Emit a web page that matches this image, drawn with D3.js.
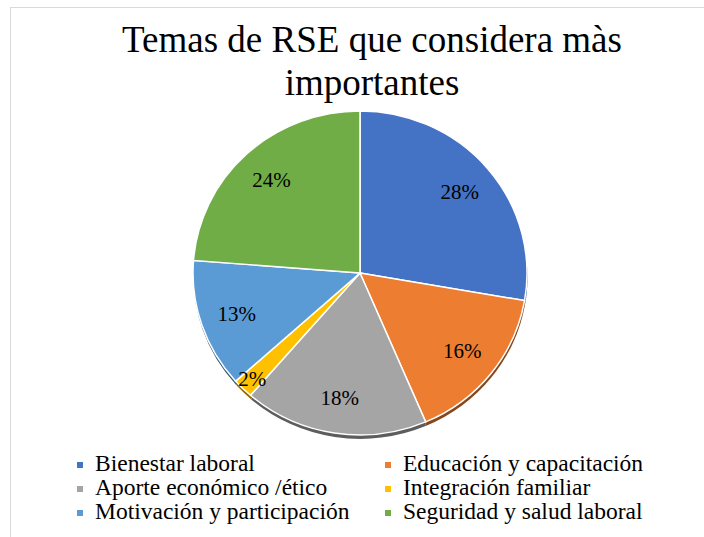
<!doctype html>
<html>
  <head>
    <meta charset="utf-8">
    <script src="https://cdnjs.cloudflare.com/ajax/libs/d3/7.8.5/d3.min.js"></script>
    <style>
      body { margin: 0; background: #fff; }
    </style>
  </head>
  <body>
    <svg id="chart" width="704" height="537"></svg>
    <script>
      // chart data
      var titleLines = ["Temas de RSE que considera màs", "importantes"];
      var categories = ["Bienestar laboral", "Educación y capacitación", "Aporte económico /ético",
                        "Integración familiar", "Motivación y participación", "Seguridad y salud laboral"];
      var values = [28, 16, 18, 2, 13, 24];
      var colors = ["#4472C4", "#ED7D31", "#A5A5A5", "#FFC000", "#5B9BD5", "#70AD47"];

      var serif = "'Liberation Serif'";
      var svg = d3.select("#chart");

      // chart area border
      svg.append("rect")
          .attr("x", 10.5).attr("y", 7.5)
          .attr("width", 720).attr("height", 560)
          .attr("fill", "none")
          .attr("stroke", "#d9d9d9");

      svg.append("text")
          .attr("text-anchor", "middle")
          .style("font-family", serif)
          .attr("font-size", 37)
          .attr("fill", "#000")
          .selectAll("tspan")
          .data(titleLines)
          .enter()
          .append("tspan")
          .attr("x", 372)
          .attr("y", (d, i) => 52 + i * 43)
          .text(d => d);

      var cx = 360, cy = 273, r = 167, squash = 0.97;
      var total = d3.sum(values);

      var pie = d3.pie().sort(null).value(d => d);
      var slices = pie(values);
      var arc = d3.arc().innerRadius(0).outerRadius(r);

      var g = svg.append("g")
          .attr("transform", "translate(" + cx + "," + cy + ") scale(1," + squash + ")");

      // extruded edge / shadow under the pie
      g.append("g")
          .attr("transform", "translate(0.5,4)")
          .selectAll("path")
          .data(slices)
          .enter()
          .append("path")
          .attr("d", arc)
          .attr("fill", (d, i) => d3.color(colors[i]).darker(1.6));

      g.append("g")
          .selectAll("path")
          .data(slices)
          .enter()
          .append("path")
          .attr("d", arc)
          .attr("fill", (d, i) => colors[i])
          .attr("stroke", "#fff")
          .attr("stroke-width", 1.5);

      // percent labels
      svg.append("g")
          .selectAll("text")
          .data(slices)
          .enter()
          .append("text")
          .attr("text-anchor", "middle")
          .style("font-family", serif)
          .attr("font-size", 21)
          .attr("fill", "#000")
          .attr("x", d => {
              var a = (d.startAngle + d.endAngle) / 2;
              var lr = (d.value / total < 0.05 ? 0.92 : 0.78) * r;
              return cx + lr * Math.sin(a);
          })
          .attr("y", d => {
              var a = (d.startAngle + d.endAngle) / 2;
              var lr = (d.value / total < 0.05 ? 0.92 : 0.78) * r;
              return cy - lr * Math.cos(a) * squash + 7;
          })
          .text(d => Math.round(d.value / total * 100) + "%");

      // legend, two columns
      var legend = svg.append("g")
          .selectAll("g")
          .data(categories)
          .enter()
          .append("g")
          .attr("transform", (d, i) => "translate(" + (i % 2 ? 385 : 77) + "," + (471 + Math.floor(i / 2) * 24) + ")");

      legend.append("rect")
          .attr("x", 0).attr("y", -9)
          .attr("width", 6).attr("height", 6)
          .attr("fill", (d, i) => colors[i]);

      legend.append("text")
          .attr("x", 18)
          .style("font-family", serif)
          .attr("font-size", 23.5)
          .attr("fill", "#000")
          .text(d => d);
    </script>
  </body>
</html>
